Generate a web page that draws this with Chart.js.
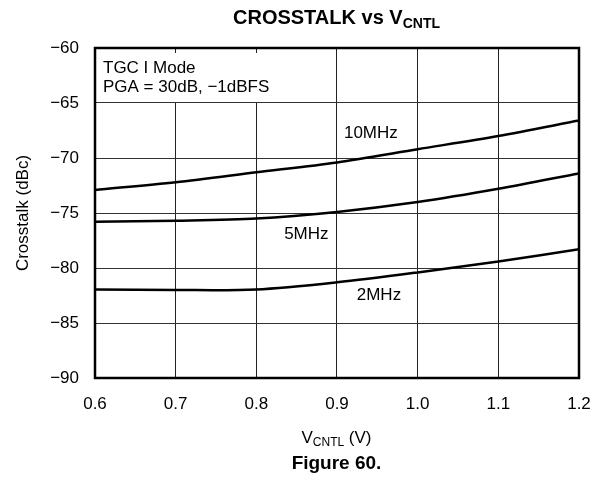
<!DOCTYPE html>
<html>
<head>
<meta charset="utf-8">
<script src="https://cdn.jsdelivr.net/npm/chart.js@4"></script>
<style>
  body { margin: 0; background: #fff; font-family: "Liberation Sans", Arial, sans-serif; }
  #wrap { position: relative; width: 601px; height: 485px; }
  .lbl { position: absolute; left: 0; width: 601px; text-align: center; color: #000;
         padding-left: 72px; box-sizing: border-box; white-space: nowrap; }
  #title { top: 5px; font-size: 20px; line-height: 24px; font-weight: bold; }
  #title sub { font-size: 14px; vertical-align: -4px; line-height: 0; }
  #xtitle { top: 428px; font-size: 17px; line-height: 20px; }
  #xtitle sub { font-size: 12px; vertical-align: -3px; line-height: 0; }
  #fig { top: 451px; font-size: 19px; line-height: 24px; font-weight: bold; }
</style>
</head>
<body>
<div id="wrap">
  <canvas id="chart" width="601" height="485"></canvas>
  <div class="lbl" id="title">CROSSTALK vs V<sub>CNTL</sub></div>
  <div class="lbl" id="xtitle">V<sub>CNTL</sub> (V)</div>
  <div class="lbl" id="fig">Figure 60.</div>
</div>
<script>
// V_CNTL values (V)
const vcntl = [0.6, 0.7, 0.8, 0.9, 1.0, 1.1, 1.2];
// crosstalk readings (dBc)
const xt10MHz = [-72.9, -72.2, -71.3, -70.4, -69.2, -68.0, -66.6];
const xt5MHz = [-75.8, -75.7, -75.5, -74.9, -74.0, -72.8, -71.4];
const xt2MHz = [-81.95, -82.0, -81.95, -81.3, -80.4, -79.4, -78.3];
const seriesNames = ['10MHz', '5MHz', '2MHz'];

const FONT = '"Liberation Sans", Arial, sans-serif';
const minus = v => String(v).replace('-', '\u2212');

function toPoints(vals) {
  return vcntl.map((x, i) => ({ x: x, y: vals[i] }));
}

// curve labels, in data coordinates
const curveLabels = [
  { text: seriesNames[0], x: 0.942, y: -67.8 },
  { text: seriesNames[1], x: 0.862, y: -76.9 },
  { text: seriesNames[2], x: 0.952, y: -82.45 }
];

const framePlugin = {
  id: 'frame',
  beforeDatasetsDraw(chart) {
    const ctx = chart.ctx;
    const a = chart.chartArea;
    const ys = chart.scales.y;
    // white box behind the condition note
    ctx.save();
    ctx.fillStyle = '#fff';
    ctx.fillRect(a.left + 1, a.top + 5, 200, ys.getPixelForValue(-65) - a.top - 6);
    ctx.fillStyle = '#000';
    ctx.font = '17px ' + FONT;
    ctx.textBaseline = 'middle';
    ctx.textAlign = 'left';
    ctx.fillText('TGC I Mode', a.left + 8, a.top + 20);
    ctx.fillText('PGA = 30dB, \u22121dBFS', a.left + 8, a.top + 39);
    ctx.restore();
  },
  afterDraw(chart) {
    const ctx = chart.ctx;
    const a = chart.chartArea;
    const xs = chart.scales.x;
    const ys = chart.scales.y;
    ctx.save();
    ctx.fillStyle = '#000';
    ctx.font = '17px ' + FONT;
    ctx.textAlign = 'center';
    ctx.textBaseline = 'middle';
    curveLabels.forEach(l => {
      ctx.fillText(l.text, xs.getPixelForValue(l.x), ys.getPixelForValue(l.y));
    });
    ctx.strokeStyle = '#000';
    ctx.lineWidth = 2.5;
    ctx.strokeRect(a.left, a.top, a.right - a.left, a.bottom - a.top);
    ctx.restore();
  }
};

const lineStyle = {
  borderColor: '#000',
  borderWidth: 2.5,
  pointRadius: 0,
  fill: false,
  tension: 0.3
};

new Chart(document.getElementById('chart'), {
  type: 'line',
  data: {
    datasets: [
      Object.assign({ label: seriesNames[0], data: toPoints(xt10MHz) }, lineStyle),
      Object.assign({ label: seriesNames[1], data: toPoints(xt5MHz) }, lineStyle),
      Object.assign({ label: seriesNames[2], data: toPoints(xt2MHz) }, lineStyle)
    ]
  },
  options: {
    responsive: false,
    animation: false,
    events: [],
    layout: { padding: { top: 48, right: 22, bottom: 0, left: 0 } },
    plugins: {
      legend: { display: false },
      tooltip: { enabled: false }
    },
    scales: {
      x: {
        type: 'linear',
        min: 0.6,
        max: 1.2,
        afterFit: s => { s.height = 107; s.paddingRight = 0; s.paddingLeft = 0; },
        grid: { color: '#222', lineWidth: 1, drawTicks: false },
        border: { display: false },
        ticks: {
          stepSize: 0.1,
          padding: 16,
          color: '#000',
          font: { size: 17, family: FONT },
          callback: v => Number(v).toFixed(1)
        }
      },
      y: {
        min: -90,
        max: -60,
        afterFit: s => { s.width = 95; },
        grid: { color: '#333', lineWidth: 1, drawTicks: false },
        border: { display: false },
        title: {
          display: true,
          text: 'Crosstalk (dBc)',
          color: '#000',
          padding: { top: 13, bottom: 0 },
          font: { size: 17, family: FONT }
        },
        ticks: {
          stepSize: 5,
          padding: 16,
          color: '#000',
          font: { size: 17, family: FONT },
          callback: v => minus(v)
        }
      }
    }
  },
  plugins: [framePlugin]
});
</script>
</body>
</html>
